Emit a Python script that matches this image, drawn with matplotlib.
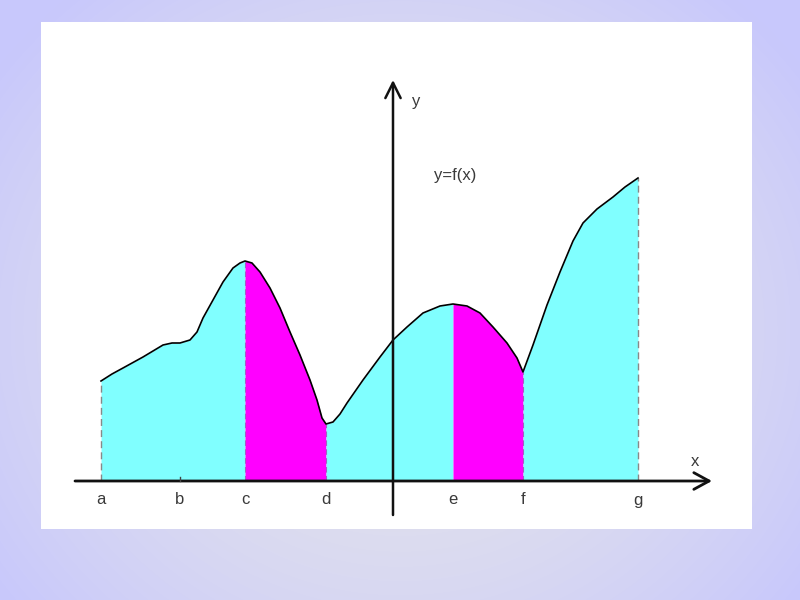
import numpy as np
import matplotlib.pyplot as plt

# curve y = f(x) (origin at the axes crossing)
curve_x = [-5.84, -5.62, -5.40, -5.00, -4.60, -4.42, -4.26, -4.06, -3.92, -3.80,
           -3.60, -3.40, -3.20, -3.06, -2.96, -2.82, -2.66, -2.46, -2.26, -2.06,
           -1.86, -1.66, -1.52, -1.42, -1.34, -1.20, -1.06, -0.92, -0.60, -0.26,
           0.00, 0.28, 0.60, 0.94, 1.20, 1.48, 1.74, 2.00, 2.28, 2.48,
           2.60, 2.80, 3.08, 3.34, 3.60, 3.80, 4.08, 4.40, 4.64, 4.90]
curve_y = [2.00, 2.14, 2.26, 2.48, 2.72, 2.76, 2.76, 2.82, 2.98, 3.26,
           3.62, 3.98, 4.26, 4.36, 4.40, 4.36, 4.18, 3.86, 3.46, 2.98,
           2.52, 2.02, 1.62, 1.26, 1.14, 1.18, 1.34, 1.56, 2.02, 2.48,
           2.82, 3.08, 3.36, 3.50, 3.54, 3.50, 3.36, 3.08, 2.76, 2.46,
           2.18, 2.72, 3.52, 4.18, 4.80, 5.16, 5.44, 5.68, 5.88, 6.06]

tick_labels = ['a', 'b', 'c', 'd', 'e', 'f', 'g']
tick_pos = [-5.84, -4.26, -2.96, -1.34, 1.20, 2.60, 4.90]

# which pieces are highlighted: (from, to, colour)
segments = [('a', 'c', '#80ffff'), ('c', 'd', '#ff00ff'), ('d', 'e', '#80ffff'),
            ('e', 'f', '#ff00ff'), ('f', 'g', '#80ffff')]

x = np.array(curve_x)
y = np.array(curve_y)
pos = dict(zip(tick_labels, tick_pos))

fig = plt.figure(figsize=(8, 6), dpi=100)

# lavender slide background
bg = fig.add_axes([0, 0, 1, 1], zorder=0)
gy, gx = np.mgrid[0:600, 0:800]
r = np.clip(((gx - 400) / 420.0) ** 2 + ((gy - 330) / 380.0) ** 2, 0, 1.4)
center = np.array([228, 228, 234]) / 255.0
edge = np.array([200, 200, 252]) / 255.0
img = center + (edge - center) * (r[..., None] / 1.4) ** 0.8
bg.imshow(img, aspect='auto')
bg.axis('off')

ax = fig.add_axes([41 / 800, 71 / 600, 711 / 800, 507 / 600], zorder=1)
ax.set_facecolor('white')
ax.set_xlim(-7.04, 7.18)
ax.set_ylim(-0.96, 9.18)
ax.set_xticks([])
ax.set_yticks([])
for s in ax.spines.values():
    s.set_visible(False)

for start, stop, col in segments:
    i0 = int(np.argmin(np.abs(x - pos[start])))
    i1 = int(np.argmin(np.abs(x - pos[stop])))
    ax.fill_between(x[i0:i1 + 1], 0, y[i0:i1 + 1], color=col, lw=0, zorder=2)

ax.plot(x, y, color='black', lw=1.2, solid_joinstyle='round', zorder=4)

# dashed verticals at the ends and at c, d, f
for name in ['a', 'g']:
    i = int(np.argmin(np.abs(x - pos[name])))
    ax.plot([x[i], x[i]], [0, y[i]], color='#888888', lw=1, ls=(0, (5, 3)), zorder=3)
for name in ['c', 'd', 'f']:
    i = int(np.argmin(np.abs(x - pos[name])))
    ax.plot([x[i], x[i]], [0, y[i]], color='#a060c0', lw=0.8, ls=(0, (5, 3)), zorder=3)

# axes with arrows
ax.annotate('', xy=(6.38, 0), xytext=(-6.36, 0),
            arrowprops=dict(arrowstyle='->,head_length=1.1,head_width=0.6', lw=2,
                            color='#111111', shrinkA=0, shrinkB=0), zorder=5)
ax.annotate('', xy=(0, 8.02), xytext=(0, -0.68),
            arrowprops=dict(arrowstyle='->,head_length=1.1,head_width=0.55', lw=1.8,
                            color='#111111', shrinkA=0, shrinkB=0), zorder=5)

# small tick at b
ax.plot([pos['b'], pos['b']], [0, 0.08], color='#444444', lw=1, zorder=5)

font = dict(family=['Liberation Sans', 'DejaVu Sans'], color='#3a3a3a', fontsize=12)
for lab, p in zip(tick_labels, tick_pos):
    ax.text(p, -0.38, lab, ha='center', va='center', **font)
ax.text(6.04, 0.38, 'x', ha='center', va='center', **font)
ax.text(0.46, 7.6, 'y', ha='center', va='center', **font)
ax.text(1.24, 6.12, 'y=f(x)', ha='center', va='center', **font)

fig.savefig('out.png', dpi=100)
